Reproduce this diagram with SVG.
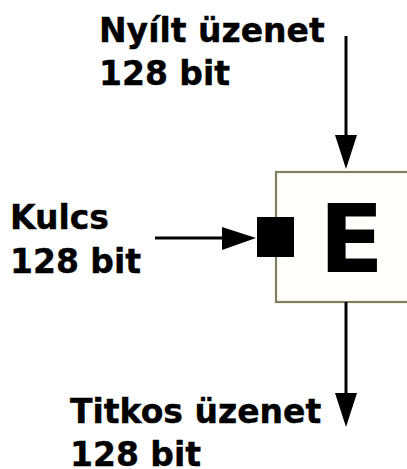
<svg xmlns="http://www.w3.org/2000/svg" width="407" height="469" viewBox="0 0 407 469">
<style>
text{font-family:"DejaVu Sans",Verdana,sans-serif;font-weight:bold;fill:#000}
.lbl{font-size:33px;stroke:#000;stroke-width:0.4}
.ln{stroke:#000;stroke-width:3;fill:none}
</style>
<rect width="407" height="469" fill="#fff"/>
<g id="E">
<rect x="276" y="172" width="140" height="130" fill="#fffffc" stroke="#808060" stroke-width="2.2"/>
<rect x="257" y="217" width="37" height="40" fill="#000"/>
<text x="319" y="272" style="font-size:95px">E</text>
</g>
<g id="plain"><text class="lbl" x="99" y="42">Nyílt üzenet</text><text class="lbl" x="99" y="85">128 bit</text></g>
<g id="key"><text class="lbl" x="10" y="229">Kulcs</text><text class="lbl" x="10" y="273">128 bit</text></g>
<g id="cipher"><text class="lbl" x="70" y="423">Titkos üzenet</text><text class="lbl" x="70" y="466">128 bit</text></g>
<g id="connectors">
<line class="ln" x1="346" y1="36" x2="346" y2="140"/>
<path d="M335,135 L357,135 L346,169 z"/>
<line class="ln" x1="155" y1="238" x2="225" y2="238"/>
<path d="M222,227 L222,250 L256,238 z"/>
<line class="ln" x1="346" y1="302" x2="346" y2="396"/>
<path d="M335,393 L357,393 L346,427 z"/>
</g>
</svg>
